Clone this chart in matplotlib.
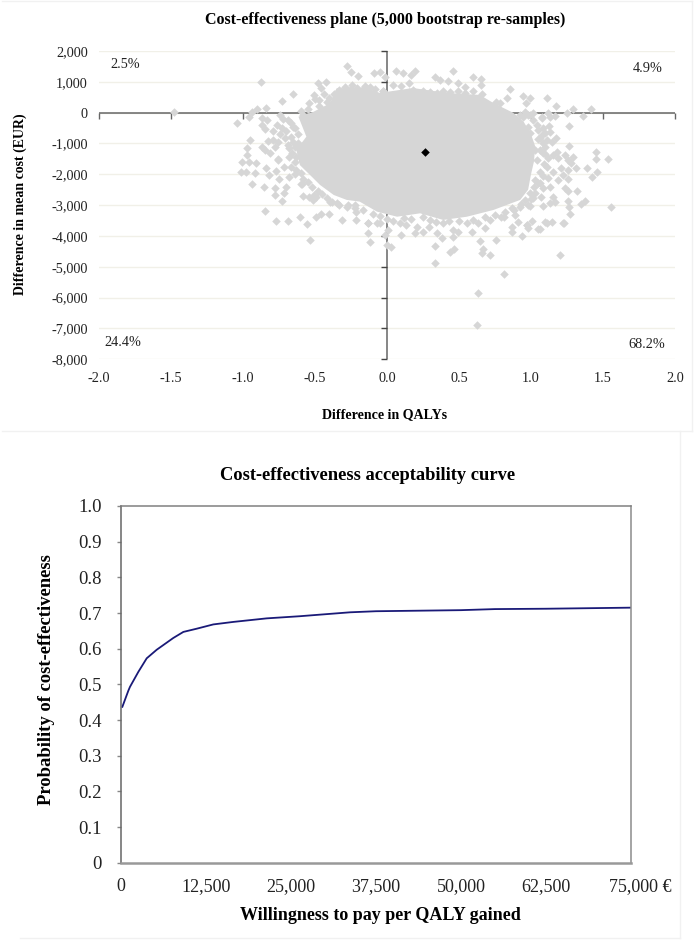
import numpy as np
import matplotlib
matplotlib.use('Agg')
import matplotlib.pyplot as plt
from matplotlib.lines import Line2D
from matplotlib.transforms import ScaledTranslation

plt.rcParams['font.family'] = ['Liberation Serif', 'DejaVu Serif']

W, H = 694, 940

# cost-effectiveness plane, values
# solid part of the cloud, traced as an outline
core_x = [-0.35, -0.395, -0.51, -0.615, -0.56, -0.63, -0.605, -0.535, -0.465, -0.37, -0.28, -0.19, -0.07,
          0.07, 0.23, 0.39, 0.555, 0.74, 0.925, 0.98, 1.0, 1.02, 1.03, 1.0, 0.95, 0.875, 0.74, 0.645, 0.415,
          0.18, -0.05, -0.14]
core_y = [790, 305, 30, -130, -780, -1210, -1700, -2020, -2345, -2670, -2830, -2885, -3210,
          -3375, -3265, -3480, -3375, -3155, -2830, -2500, -2000, -1600, -1100, -700, -300, 0, 310, 575, 640,
          800, 640, 800]
# single resamples outside the solid part
boot_x = [-1.477, -0.877, -1.044, -0.956, -0.94, -0.90, -0.84, -0.73, -0.65, -0.51, -0.48, -0.425, -0.275, -0.25,
          -0.20, -0.09, -0.05, -0.455, -0.47, -0.545, -0.87, -0.835, -0.87, -0.85, -0.74, -0.685, -0.765, -0.79,
          -0.73, -0.65, -0.95, -0.97, -0.975, -0.87, -0.85, -0.825, -0.79, -0.78, -0.81, -0.755, -0.71, -0.685,
          -0.64, -1.01, -0.955, -0.91, -1.015, -0.98, -0.92, -0.84, -0.82, -0.77, -0.715, -0.76, -0.68, -0.94,
          -0.855, -0.75, -0.78, -0.70, -0.78, -0.715, -0.73, -0.59, -0.58, -0.545, -0.51, -0.49, -0.515, -0.85,
          -0.77, -0.69, -0.605, -0.555, -0.49, -0.46, -0.40, -0.31, -0.215, -0.215, -0.13, -0.13, -0.12, -0.535,
          -0.395, -0.35, -0.28, -0.22, -0.07, 0.0, 0.03, 0.097, 0.195, 0.25, 0.345, 0.38, 0.335, 0.335, 0.44,
          0.465, 0.455, 0.59, 0.68, 0.645, 0.67, 0.66, 0.715, 0.755, 0.815, 0.63, 0.625, 1.2, 0.865, 0.865, 0.94,
          0.975, 1.005, 0.91, 1.05, 1.225, 1.06, 1.11, 1.145, -0.13, -0.05, 0.01, -0.015, 0.09, 0.135, 0.205,
          0.29, 0.39, 0.46, 0.495, 0.555, 0.635, 0.715, 0.795, 1.175, 1.295, 1.42, 1.25, 1.36, 1.265, 1.12,
          1.165, 1.075, 1.13, 1.125, 1.135, 1.175, 1.145, 1.265, 1.45, 1.45, 1.535, 1.39, 1.31, 1.46, 1.425,
          1.295, 1.26, 1.18, 1.235, 1.19, 1.28, 1.21, 1.26, 1.225, 1.19, 1.26, 1.235, 1.255, 1.32, 1.26, 1.265,
          1.345, 1.375, 1.555, 1.27, 1.23, 1.10, 0.97, 0.98, 1.155, 1.165, 1.13, 1.08, 1.07, 1.015, 0.995, 0.89,
          0.81, 1.13, 1.085, 1.05, 1.12, 0.945, 1.05, 1.075, 1.10, 1.06, 1.12, 1.11, 1.06, 1.04, 1.155, 1.155,
          1.03, 0.995, 0.96, 0.925, 0.98, 0.88, 1.015, 0.925, 0.96, 0.98, 1.015, 0.995, 0.06, 0.11, 0.195, 0.17,
          0.15, 0.045, 0.10, -0.015, 0.455, 0.335, 0.37, 0.425, 0.595, 0.655, 0.655, 0.49, 0.54, 0.855, 0.83,
          0.945, 0.99, 0.965, 1.11, 1.075, 0.76]
boot_y = [30, 1005, -345, -150, 30, 110, 150, 390, 605, 575, 970, 1005, 1525, 1330,
          1200, 1280, 1330, 790, 410, 305, -180, -240, -400, -540, -75, -240, -400, -585,
          -510, -455, -885, -1135, -1370, -1100, -1210, -905, -885, -1120, -1320, -1510, -830, -1050,
          -1100, -1610, -1590, -1630, -1915, -1935, -1965, -1805, -2020, -1890, -1770, -1535, -2095, -2320,
          -2420, -2150, -2450, -2420, -2670, -2615, -2855, -2320, -2690, -2725, -2670, -2725, -2830, -3180,
          -3510, -3500, -3375, -3620, -3395, -3285, -3275, -3480, -3230, -3480, -3570, -3915, -4185, -4130,
          -2885, -2940, -3050, -2995, -3590, -4290, -4365, -3965, -3890, -3860, -3915, -4075, -4325, -4865, -4520,
          -4430, -4040, -3880, -3750, -4160, -4420, -4560, -4615, -4130, -5230, -5860, -6875, -4625, -3700, -3860, -3990,
          -3640, -3500, -3535, -3780, -3590, -3780, -3570, -3535, -3570, -3590, -3800, -3965, -3590, -3640, -3700,
          -3700, -3590, -3800, -3860, -3590, -3590, -3480, -3375, 230, 110, 110, 0, -95, -430, 0,
          -95, -160, -130, -430, -640, -810, -940, -1080, -1285, -1510, -1490, -1785, -1785, -1915, -2075,
          -1425, -1535, -1265, -1370, -1480, -1640, -1785, -1860, -2020, -2185, -2150, -2450, -2530, -2530, -2865, -3050,
          -2960, -2865, -3050, -3295, -3570, -3555, -3640, -3750, -2725, -2885, -2940, -3030, -2745, -2770, -3030, -3320,
          -3375, -2400, -2450, -2290, -2130, -2345, -560, -720, -1100, -1210, -1480, -1750, -1915, -1535, -1370, -1915,
          -2185, -2615, -2830, -3050, -2995, -3155, -240, -75, 30, -75, 0, -660, 1350, 1280, 1350, 1220,
          970, 900, 865, 1170, 1350, 1150, 1060, 1040, 1170, 1085, 900, 970, 845, 770, 490,
          540, 470, 305, 470, -150, 360]
# resamples along the edge of the solid part
edge_x = [0.15, 0.18, 0.215, 0.25, 0.30, 0.345, 0.39, 0.44, 0.49, 0.54, 0.60, 0.66,
          -0.33, -0.29, -0.25, -0.21, -0.17, -0.12, -0.08, -0.03, -0.245, -0.15, -0.03,
          0.74, 0.785, 0.875, 0.945, 0.99, 0.925, 0.98, 1.04, 1.085, 1.06, 1.11, 1.03, 1.085,
          -0.67, -0.64, -0.62, -0.67, -0.65, -0.62, -0.68, -0.66, -0.63, -0.68, -0.64, -0.67, -0.63, -0.60, -0.64,
          -0.58, -0.55, -0.60, -0.52, -0.48, -0.45, -0.42, -0.38, -0.33, -0.27, -0.22, -0.17, -0.10, -0.05, 0.0,
          0.04, 0.12, 0.17, 0.25, 0.30, 0.34, 0.43, 0.50, 0.60, 0.68, 0.75, 0.82, 0.87, 0.93, 1.0, 1.03, 1.02,
          1.06, 1.08, 1.09, 1.10, 1.08, 1.05, 1.10,
          -0.58, -0.60, -0.55, -0.47, -0.42, -0.40, -0.37, -0.44, -0.50, -0.72, -0.70, -0.74, -0.76]
edge_y = [680, 720, 650, 700, 680, 640, 710, 660, 700, 640, 690, 620,
          750, 830, 760, 800, 780, 830, 760, 715, 900, 865, 715,
          250, 310, -170, -140, -75, -400, -450, -400, -500, -820, -885, -1210, -1310,
          -350, -500, -700, -800, -950, -1000, -1150, -1300, -1450, -1450, -1600, -1750, -1850, -1950, -2000,
          -2150, -2250, -2300, -2400, -2550, -2650, -2780, -2900, -2980, -3000, -3100, -3150, -3300, -3350, -3450,
          -3500, -3420, -3450, -3400, -3480, -3550, -3520, -3500, -3480, -3400, -3330, -3220, -3100, -2950, -2800, -2600, -2400,
          -2280, -2050, -1650, -1350, -1000, -850, -650,
          -70, 50, 130, 210, 330, 470, 620, 600, 430, -220, -600, -700, -950]
mean_x = [0.262]
mean_y = [-1265]
plane_xticks = [-2.0, -1.5, -1.0, -0.5, 0.0, 0.5, 1.0, 1.5, 2.0]
plane_xlabels = ['-2.0', '-1.5', '-1.0', '-0.5', '0.0', '0.5', '1.0', '1.5', '2.0']
plane_yticks = [2000, 1000, 0, -1000, -2000, -3000, -4000, -5000, -6000, -7000, -8000]
plane_ylabels = ['2,000', '1,000', '0', '-1,000', '-2,000', '-3,000', '-4,000', '-5,000', '-6,000', '-7,000', '-8,000']

# acceptability curve
wtp = [200, 1075, 1320, 2550, 3780, 5250, 7690, 9170, 11130, 13570, 16500, 21430, 26300, 33700, 37500, 50000,
       55000, 62500, 75000]
prob = [0.437, 0.482, 0.493, 0.535, 0.573, 0.597, 0.630, 0.647, 0.656, 0.668, 0.675, 0.685, 0.691, 0.702, 0.705,
        0.708, 0.711, 0.712, 0.715]
ceac_xticks = [0, 12500, 25000, 37500, 50000, 62500, 75000]
ceac_xlabels = ['0', '12,500', '25,000', '37,500', '50,000', '62,500', '75,000 €']
ceac_yticks = [0, 0.1, 0.2, 0.3, 0.4, 0.5, 0.6, 0.7, 0.8, 0.9, 1.0]
ceac_ylabels = ['0', '0.1', '0.2', '0.3', '0.4', '0.5', '0.6', '0.7', '0.8', '0.9', '1.0']


def box(left, top, right, bottom):
    return [left / W, 1 - bottom / H, (right - left) / W, (bottom - top) / H]


def put(x, y, s, **kw):
    fig.text(x / W, 1 - y / H, s, ha='center', va='center', **kw)


def frame(x1, y1, x2, y2):
    fig.add_artist(Line2D([x1 / W, x2 / W], [1 - y1 / H, 1 - y2 / H], color='#f1f1f1', lw=1))


fig = plt.figure(figsize=(W / 100, H / 100), dpi=100)

# top panel
ax1 = fig.add_axes(box(99, 51, 675, 359.3))
ax1.set_xlim(-2, 2)
ax1.set_ylim(-8000, 2000)
for s in ax1.spines.values():
    s.set_visible(False)
ax1.set_xticks(plane_xticks)
ax1.set_xticklabels(plane_xlabels)
ax1.set_yticks(plane_yticks)
ax1.set_yticklabels(plane_ylabels)
ax1.tick_params(length=0, labelsize=10.3, labelcolor='#222222')
ax1.tick_params(axis='x', pad=9)
ax1.tick_params(axis='y', pad=8)
ax1.grid(axis='y', color='#f1f0e8', lw=1)
ax1.set_axisbelow(True)
ax1.axhline(0, color='#666666', lw=1.1, zorder=1)
ax1.axvline(0, color='#666666', lw=1.1, zorder=1)
ax1.plot(plane_xticks, np.zeros(len(plane_xticks)), ls='', marker=3, ms=4, mew=1, color='#666666', zorder=1, clip_on=False)
ax1.plot(np.zeros(len(plane_yticks)), plane_yticks, ls='', marker=0, ms=4, mew=1, color='#444444', zorder=1, clip_on=False)
ax1.fill(core_x, core_y, color='#d6d6d6', lw=0, zorder=2)
ax1.scatter(boot_x + edge_x, boot_y + edge_y, marker='D', s=19, color='#d6d6d6', lw=0, zorder=2, clip_on=False)
ax1.scatter(mean_x, mean_y, marker='D', s=19, color='black', lw=0, zorder=3)

put(385, 20, 'Cost-effectiveness plane (5,000 bootstrap re-samples)', fontsize=11.5, fontweight='bold')
put(20, 204, 'Difference in mean cost (EUR)', fontsize=10, fontweight='bold', rotation=90)
put(385, 415, 'Difference in QALYs', fontsize=10.1, fontweight='bold')
put(125, 65, '2.5%', fontsize=10.3, color='#222222')
put(648, 68, '4.9%', fontsize=10.3, color='#222222')
put(123, 343, '24.4%', fontsize=10.3, color='#222222')
put(647, 344, '68.2%', fontsize=10.3, color='#222222')

# bottom panel
ax2 = fig.add_axes(box(121, 506, 631, 862.7))
ax2.plot(wtp, prob, color='#1a1a78', lw=1.3)
ax2.set_xlim(0, 75000)
ax2.set_ylim(0, 1)
ax2.set_xticks(ceac_xticks)
ax2.set_xticklabels(ceac_xlabels)
ax2.set_yticks(ceac_yticks)
ax2.set_yticklabels(ceac_ylabels)
ax2.tick_params(axis='x', length=0, pad=11, labelsize=13, labelcolor='#222222')
ax2.tick_params(axis='y', length=3, width=1, color='#888888', pad=11, labelsize=13.5, labelcolor='#222222')
ax2.spines['left'].set_color('#666666')
ax2.spines['top'].set_color('#808080')
ax2.spines['right'].set_color('#8c8c8c')
ax2.spines['bottom'].set_color('#999999')
ax2.spines['left'].set_linewidth(1.1)
ax2.spines['top'].set_linewidth(1.1)
ax2.spines['right'].set_linewidth(1.1)
ax2.spines['bottom'].set_linewidth(1.8)
last = ax2.get_xticklabels()[-1]
last.set_transform(last.get_transform() + ScaledTranslation(7 / 72, 0, fig.dpi_scale_trans))

put(368, 476, 'Cost-effectiveness acceptability curve', fontsize=13.3, fontweight='bold')
put(47, 680, 'Probability of cost-effectiveness', fontsize=13.4, fontweight='bold', rotation=90)
put(380, 916, 'Willingness to pay per QALY gained', fontsize=13, fontweight='bold')

# faint panel frames
frame(2, 1, 692, 1)
frame(692, 1, 692, 431)
frame(2, 431, 692, 431)
frame(680, 431, 680, 938)
frame(20, 938, 680, 938)

print(len(boot_x), len(boot_y), len(edge_x), len(edge_y))
fig.savefig('out.png', dpi=100)
